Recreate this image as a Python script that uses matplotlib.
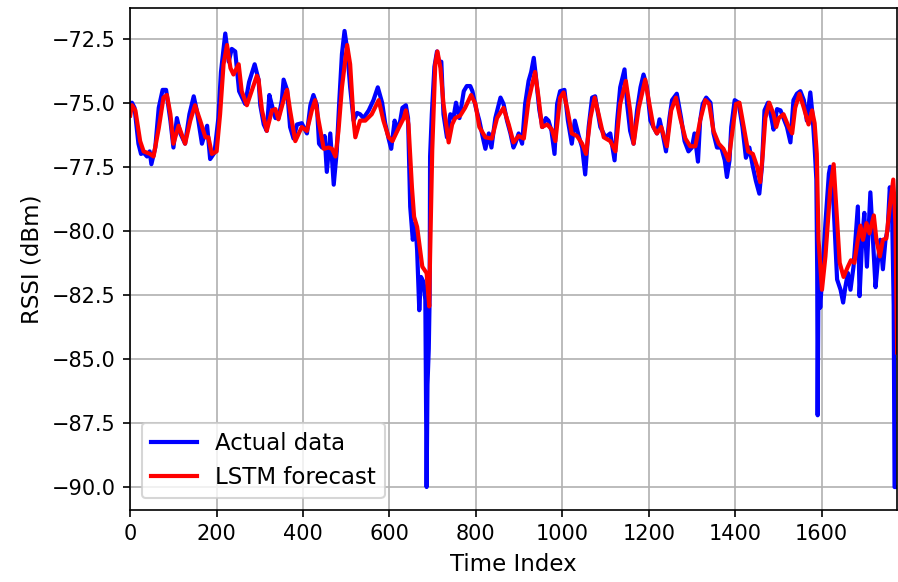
import matplotlib
matplotlib.use("Agg")
import matplotlib.pyplot as plt

# values (time index, RSSI in dBm)
t_actual = [0, 4, 10, 19, 25, 31, 39, 45, 49, 58, 66, 75, 83, 93, 100, 108, 116, 127, 137, 147,
            154, 166, 178, 185, 195, 204, 210, 220, 228, 235, 243, 252, 266, 275, 288, 297, 301, 309, 316, 322,
            328, 336, 343, 351, 355, 363, 370, 378, 386, 397, 409, 417, 424, 432, 437, 444, 450, 455, 463, 471,
            478, 484, 490, 496, 502, 509, 517, 525, 532, 540, 552, 563, 573, 583, 590, 598, 604, 612, 617, 625,
            630, 638, 643, 648, 654, 660, 664, 669, 673, 679, 683, 686, 688, 691, 693, 694, 698, 704, 710, 714,
            720, 725, 733, 741, 748, 754, 762, 772, 779, 787, 792, 800, 808, 816, 822, 830, 836, 845, 857, 864,
            872, 880, 887, 891, 899, 907, 914, 922, 928, 934, 939, 947, 954, 962, 968, 975, 982, 988, 995, 1005,
            1013, 1022, 1029, 1038, 1046, 1053, 1061, 1069, 1076, 1088, 1100, 1111, 1121, 1127, 1134, 1144, 1150, 1157, 1165, 1173,
            1181, 1188, 1196, 1204, 1211, 1219, 1225, 1231, 1240, 1248, 1254, 1265, 1275, 1283, 1292, 1300, 1306, 1314, 1319, 1325,
            1333, 1343, 1350, 1358, 1368, 1376, 1381, 1387, 1391, 1399, 1408, 1417, 1425, 1433, 1441, 1448, 1456, 1462, 1468, 1476,
            1484, 1489, 1497, 1505, 1512, 1520, 1528, 1535, 1543, 1551, 1559, 1566, 1574, 1579, 1584, 1588, 1590, 1591, 1593, 1597,
            1601, 1609, 1617, 1620, 1628, 1636, 1644, 1650, 1655, 1661, 1667, 1674, 1684, 1688, 1694, 1699, 1705, 1713, 1719, 1725,
            1730, 1736, 1742, 1748, 1753, 1758, 1763, 1767, 1769, 1775]
rssi_actual = [-75.3, -75.0, -75.2, -76.6, -77.0, -76.95, -77.1, -76.9, -77.4, -76.75, -75.2, -74.5, -74.5, -75.7, -76.75, -75.6, -76.2, -76.6, -75.45, -74.75,
               -75.3, -76.6, -75.9, -77.2, -76.95, -75.6, -73.8, -72.3, -73.4, -72.9, -73.0, -74.55, -75.05, -74.2, -73.5, -74.1, -75.1, -75.85, -76.1, -74.7,
               -75.1, -75.6, -75.6, -74.9, -74.1, -74.5, -75.95, -76.4, -75.85, -75.8, -76.2, -75.1, -74.7, -75.1, -76.6, -76.75, -76.3, -77.7, -76.2, -78.2,
               -76.9, -74.9, -73.1, -72.2, -72.9, -74.4, -75.7, -75.4, -75.45, -75.6, -75.3, -74.9, -74.4, -75.0, -75.8, -76.4, -76.8, -75.7, -76.1, -75.7,
               -75.2, -75.1, -75.6, -79.06, -80.35, -79.7, -80.75, -83.1, -81.8, -82.0, -82.7, -90.0, -86.0, -84.6, -82.55, -77.1, -75.45, -73.6, -73.0, -73.4,
               -73.4, -75.45, -76.35, -75.45, -75.6, -75.0, -75.6, -74.55, -74.35, -74.35, -74.55, -75.2, -75.7, -76.35, -76.8, -76.2, -76.75, -75.6, -74.8, -75.05,
               -75.7, -76.2, -76.75, -76.6, -76.2, -76.6, -75.05, -74.15, -73.8, -73.25, -74.0, -75.3, -75.95, -75.6, -75.7, -76.1, -77.0, -75.05, -74.55, -74.5,
               -75.7, -76.6, -75.7, -76.3, -76.75, -77.8, -75.95, -74.8, -74.75, -75.95, -76.35, -76.2, -77.25, -75.7, -74.4, -73.7, -75.05, -76.1, -76.6, -75.3,
               -74.4, -73.9, -74.4, -75.7, -75.95, -76.2, -75.65, -76.1, -76.9, -75.6, -74.9, -74.65, -75.6, -76.5, -76.9, -76.75, -76.2, -77.3, -75.7, -75.05,
               -74.8, -75.0, -76.2, -76.75, -76.75, -77.25, -77.9, -77.25, -75.95, -74.9, -75.0, -75.95, -77.15, -76.75, -77.5, -78.05, -78.55, -77.5, -75.3, -75.0,
               -75.6, -76.05, -75.25, -75.3, -75.6, -75.95, -76.55, -74.9, -74.65, -74.55, -74.9, -75.7, -74.6, -75.45, -76.75, -78.0, -81.65, -87.2, -81.5, -83.0,
               -81.9, -79.7, -77.77, -77.5, -79.05, -81.9, -82.3, -82.8, -82.2, -81.65, -82.3, -81.4, -79.05, -82.55, -80.35, -79.3, -81.4, -78.5, -80.35, -82.2,
               -81.25, -80.35, -81.5, -80.35, -79.95, -78.3, -79.05, -82.9, -90.0, -90.0]

t_forecast = [0, 4, 12, 23, 31, 46, 54, 66, 77, 85, 93, 100, 112, 127, 139, 150, 162, 174, 181, 189,
              200, 208, 216, 224, 232, 239, 251, 258, 270, 282, 293, 297, 305, 316, 328, 336, 343, 355, 363, 370,
              382, 397, 409, 421, 428, 436, 448, 459, 467, 475, 482, 490, 502, 509, 517, 521, 532, 544, 559, 575,
              586, 598, 607, 621, 633, 638, 644, 652, 657, 664, 676, 686, 692, 694, 699, 706, 711, 718, 725, 737,
              745, 752, 764, 775, 789, 799, 808, 822, 837, 849, 864, 876, 887, 899, 911, 922, 937, 945, 953, 965,
              976, 984, 995, 1003, 1011, 1022, 1034, 1046, 1055, 1065, 1075, 1084, 1096, 1111, 1123, 1134, 1147, 1157, 1165, 1177,
              1192, 1200, 1211, 1219, 1229, 1242, 1252, 1263, 1273, 1285, 1296, 1308, 1319, 1331, 1340, 1350, 1362, 1373, 1385, 1393,
              1402, 1410, 1420, 1430, 1441, 1451, 1458, 1464, 1470, 1479, 1489, 1495, 1501, 1512, 1524, 1532, 1539, 1549, 1559, 1570,
              1578, 1584, 1589, 1593, 1601, 1609, 1620, 1628, 1634, 1642, 1651, 1661, 1668, 1676, 1684, 1690, 1696, 1704, 1711, 1721,
              1727, 1735, 1742, 1750, 1758, 1766, 1771, 1775]
rssi_forecast = [-75.5, -75.1, -75.3, -76.5, -76.9, -77.0, -77.1, -76.0, -74.8, -74.7, -75.45, -76.6, -75.9, -76.6, -75.7, -75.1, -75.7, -76.35, -76.35, -77.0,
                 -76.9, -75.45, -73.5, -72.75, -73.65, -73.9, -73.5, -74.55, -75.1, -74.5, -73.95, -74.1, -75.3, -76.1, -75.3, -75.25, -75.65, -74.9, -74.5, -75.3,
                 -76.5, -75.95, -76.1, -75.25, -74.9, -75.7, -76.8, -76.75, -76.8, -77.1, -76.1, -74.4, -72.75, -73.5, -75.7, -76.35, -75.7, -75.7, -75.45, -74.9,
                 -75.7, -76.35, -76.5, -76.0, -75.6, -75.3, -75.85, -78.3, -79.45, -79.85, -81.4, -81.65, -82.95, -81.0, -76.85, -73.5, -73.0, -73.65, -75.05, -76.55,
                 -75.85, -75.6, -75.5, -75.2, -74.7, -75.05, -75.95, -76.35, -76.4, -75.6, -75.2, -75.85, -76.55, -76.3, -76.4, -74.9, -73.8, -74.8, -75.95, -75.85,
                 -76.05, -76.5, -74.8, -74.6, -75.2, -76.2, -76.3, -76.6, -77.0, -75.6, -74.8, -75.45, -76.35, -76.5, -76.9, -75.05, -74.15, -75.3, -76.6, -75.2,
                 -74.1, -74.9, -75.95, -76.2, -75.95, -76.7, -75.3, -74.8, -75.6, -76.4, -76.7, -76.7, -75.7, -74.9, -75.05, -76.1, -76.6, -76.8, -77.25, -76.2,
                 -75.05, -75.0, -75.95, -76.9, -77.0, -77.5, -78.1, -77.0, -75.6, -75.0, -75.45, -75.95, -75.6, -75.45, -75.95, -76.2, -75.2, -74.65, -75.2, -75.85,
                 -75.3, -75.8, -77.0, -80.35, -82.3, -81.0, -78.4, -77.4, -79.05, -81.25, -81.8, -81.4, -81.15, -81.25, -80.35, -79.8, -80.35, -79.7, -80.1, -79.4,
                 -80.35, -81.0, -80.35, -80.3, -79.05, -78.0, -79.7, -84.75]

fig = plt.figure(figsize=(5.987, 3.88), dpi=150)
plt.subplots_adjust(left=0.145, right=0.999, top=0.986, bottom=0.124)

plt.plot(t_actual, rssi_actual, color="blue", linewidth=2, label="Actual data")
plt.plot(t_forecast, rssi_forecast, color="red", linewidth=2, label="LSTM forecast")
plt.xlim(0, 1775)
plt.xlabel("Time Index", fontsize=11)
plt.ylabel("RSSI (dBm)", fontsize=11)
plt.xticks(fontsize=10)
plt.yticks(fontsize=10)
plt.grid(True)
plt.legend(loc="lower left", fontsize=11)
plt.savefig("out.png", dpi=150)
